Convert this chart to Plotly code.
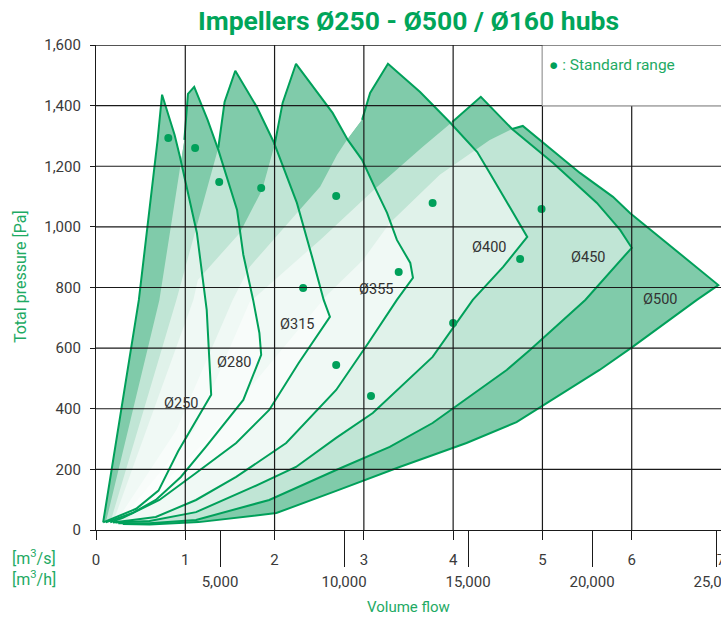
import plotly.graph_objects as go

# ---------------- data (flow in m³/s, pressure in Pa) ----------------
impellers = ["Ø250", "Ø280", "Ø315", "Ø355", "Ø400", "Ø450", "Ø500"]

# Each field: from near the origin up the left side, over the peak,
# down the right side to the nose and back along the bottom curve.
x_250 = [0.08, 0.48, 0.69, 0.74, 0.88, 0.94, 1.13, 1.24, 1.29, 1.10, 0.92, 0.70, 0.45]
y_250 = [25, 759, 1287, 1436, 1304, 1231, 980, 726, 446, 350, 260, 130, 70]

x_280 = [0.11, 0.71, 0.99, 1.03, 1.10, 1.25, 1.37, 1.58, 1.65, 1.76, 1.83, 1.85, 1.65, 1.23, 0.95, 0.67, 0.41]
y_280 = [25, 759, 1287, 1439, 1462, 1353, 1254, 1056, 908, 759, 650, 578, 429, 274, 175, 99, 56]

x_315 = [0.16, 0.90, 1.37, 1.44, 1.56, 1.80, 1.99, 2.17, 2.25, 2.42, 2.55, 2.62, 2.27, 1.94, 1.57, 1.12, 0.71, 0.30]
y_315 = [25, 759, 1261, 1412, 1515, 1396, 1280, 1139, 1079, 901, 759, 703, 551, 396, 287, 188, 99, 40]

x_355 = [0.19, 1.09, 1.14, 1.61, 1.86, 2.00, 2.09, 2.24, 2.65, 2.82, 2.98, 3.12, 3.26, 3.37, 3.52, 3.55,
         3.37, 3.05, 2.69, 2.13, 1.57, 1.12, 0.67]
y_355 = [25, 759, 825, 980, 1122, 1270, 1409, 1538, 1376, 1287, 1221, 1132, 1046, 957, 881, 832,
         759, 617, 462, 287, 175, 99, 43]

x_400 = [0.22, 0.90, 1.53, 1.72, 2.28, 2.51, 2.70, 2.81, 2.98, 3.07, 3.27, 3.63, 3.96, 4.27, 4.41, 4.67, 4.83,
         4.56, 4.22, 3.77, 3.10, 2.69, 2.24, 1.76, 1.12, 0.60]
y_400 = [25, 330, 759, 868, 1056, 1132, 1238, 1287, 1353, 1442, 1538, 1445, 1346, 1247, 1178, 1046, 967,
         868, 759, 571, 386, 304, 208, 142, 59, 30]

x_450 = [0.25, 1.10, 1.72, 2.51, 3.15, 3.66, 3.99, 4.31, 4.66, 5.12, 5.61, 5.87, 6.00,
         5.61, 5.48, 4.86, 4.60, 3.77, 3.29, 2.69, 1.94, 1.12, 0.60]
y_450 = [22, 330, 752, 957, 1132, 1264, 1346, 1429, 1323, 1211, 1079, 990, 931,
         802, 759, 594, 528, 353, 274, 198, 99, 33, 22]

x_500 = [0.30, 1.25, 2.59, 2.99, 3.29, 3.85, 4.41, 4.66, 4.78, 5.42, 5.79, 5.98, 6.97,
         6.73, 6.01, 5.64, 4.71, 4.15, 3.40, 2.69, 2.02, 1.15, 0.60]
y_500 = [20, 300, 776, 891, 1013, 1172, 1287, 1323, 1333, 1178, 1099, 1046, 808,
         759, 604, 528, 356, 287, 208, 129, 56, 26, 18]

fields_x = [x_250, x_280, x_315, x_355, x_400, x_450, x_500]
fields_y = [y_250, y_280, y_315, y_355, y_400, y_450, y_500]

# index of the first left-side vertex from which the outline is drawn
outline_from = [0, 2, 2, 5, 8, 6, 7]

label_x = [0.95, 1.545, 2.25, 3.14, 4.40, 5.51, 6.32]
label_y = [416, 551, 677, 795, 931, 898, 759]

std_flow = [0.81, 1.11, 1.38, 1.85, 2.69, 3.77, 4.99, 4.75, 3.39, 2.32, 4.00, 2.69, 3.08]
std_pressure = [1293, 1260, 1148, 1128, 1102, 1079, 1059, 894, 851, 798, 683, 544, 442]

flow_s_ticks = [0, 1, 2, 3, 4, 5, 6, 7]
flow_h_ticks = [5000, 10000, 15000, 20000, 25000]
flow_h_text = ["5,000", "10,000", "15,000", "20,000", "25,000"]
pressure_ticks = [0, 200, 400, 600, 800, 1000, 1200, 1400, 1600]

X_MAX = 7.0          # m³/s at right edge
H_PER_S = 3600.0     # m³/h per m³/s

# ---------------- styling ----------------
FONT = "Roboto, sans-serif"
LINE_GREEN = "rgb(0,160,90)"
BASE_GREEN = "rgb(0,150,84)"
VEIL = "rgba(255,255,255,0.5)"
TEXT_GREEN = "rgb(30,170,100)"
TICK_GREY = "#3a3a3a"
GRID = "#1a1a1a"

fig = go.Figure()

# opaque green base of every field
for xs, ys in zip(fields_x, fields_y):
    fig.add_trace(go.Scatter(x=xs + [xs[0]], y=ys + [ys[0]], mode="lines", fill="toself",
                             fillcolor=BASE_GREEN, line=dict(width=0),
                             hoverinfo="skip", showlegend=False))
# white veil per field: more overlapping fields -> lighter
for xs, ys in zip(fields_x, fields_y):
    fig.add_trace(go.Scatter(x=xs + [xs[0]], y=ys + [ys[0]], mode="lines", fill="toself",
                             fillcolor=VEIL, line=dict(width=0),
                             hoverinfo="skip", showlegend=False))
# outlines
for name, xs, ys, k in zip(impellers, fields_x, fields_y, outline_from):
    fig.add_trace(go.Scatter(x=xs[k:] + [xs[0]], y=ys[k:] + [ys[0]], mode="lines",
                             line=dict(color=LINE_GREEN, width=2), name=name,
                             hoverinfo="skip", showlegend=False))

# standard range points
fig.add_trace(go.Scatter(x=std_flow, y=std_pressure, mode="markers",
                         marker=dict(color=LINE_GREEN, size=8),
                         name=": Standard range", showlegend=False))

# dummy for second (m³/h) axis
fig.add_trace(go.Scatter(x=[None], y=[None], xaxis="x2", showlegend=False, hoverinfo="skip"))

annotations = []
for name, lx, ly in zip(impellers, label_x, label_y):
    annotations.append(dict(x=lx, y=ly, xref="x", yref="y", text=name, showarrow=False,
                            xanchor="center", yanchor="middle",
                            font=dict(family=FONT, size=14.5, color="#333333")))

annotations += [
    dict(x=-0.1216, y=0.5216, xref="paper", yref="paper", text="Total pressure [Pa]", textangle=-90,
         xanchor="center", yanchor="middle", showarrow=False,
         font=dict(family=FONT, size=16, color=TEXT_GREEN)),
    dict(x=0.5, y=-0.1588, xref="paper", yref="paper", text="Volume flow", showarrow=False,
         xanchor="center", yanchor="middle",
         font=dict(family=FONT, size=15, color=TEXT_GREEN)),
    dict(x=-0.099, y=-0.0577, xref="paper", yref="paper", text="[m<sup>3</sup>/s]", showarrow=False,
         xanchor="center", yanchor="middle",
         font=dict(family=FONT, size=16, color=TEXT_GREEN)),
    dict(x=-0.099, y=-0.101, xref="paper", yref="paper", text="[m<sup>3</sup>/h]", showarrow=False,
         xanchor="center", yanchor="middle",
         font=dict(family=FONT, size=16, color=TEXT_GREEN)),
    dict(x=0.722, y=0.959, xref="paper", yref="paper", xanchor="left", yanchor="middle",
         text='<span style="color:rgb(0,160,90)">●</span> : Standard range', showarrow=False,
         font=dict(family=FONT, size=15.5, color=TEXT_GREEN)),
]

shapes = []
for p in pressure_ticks[1:]:
    shapes.append(dict(type="line", xref="x", yref="y", x0=0, x1=X_MAX, y0=p, y1=p,
                       line=dict(color=GRID, width=1.2), layer="above"))
for f in flow_s_ticks[1:-1]:
    shapes.append(dict(type="line", xref="x", yref="y", x0=f, x1=f, y0=0, y1=pressure_ticks[-1],
                       line=dict(color=GRID, width=1.2), layer="above"))
# legend box
shapes.append(dict(type="rect", xref="x", yref="y", x0=5, x1=X_MAX + 0.05, y0=1400, y1=1600,
                   fillcolor="white", line=dict(width=0), layer="above"))
shapes.append(dict(type="line", xref="x", yref="y", x0=5, x1=5, y0=1400, y1=1600,
                   line=dict(color="#b0b0b0", width=1.2), layer="above"))
shapes.append(dict(type="line", xref="x", yref="y", x0=5, x1=X_MAX, y0=1400, y1=1400,
                   line=dict(color="#b0b0b0", width=1.2), layer="above"))
shapes.append(dict(type="line", xref="x", yref="y", x0=0, x1=X_MAX, y0=1600, y1=1600,
                   line=dict(color=GRID, width=1.2), layer="above"))

fig.update_layout(
    width=721, height=617,
    margin=dict(l=96, r=0, t=45, b=87),
    paper_bgcolor="white", plot_bgcolor="white",
    title=dict(text="<b>Impellers Ø250 - Ø500 / Ø160 hubs</b>", x=0.5, xref="paper",
               xanchor="center", y=0.967, yref="container", yanchor="middle",
               font=dict(family=FONT, size=26.5, color="rgb(0,165,90)")),
    xaxis=dict(range=[0, X_MAX], tickvals=flow_s_ticks, ticks="outside", ticklen=9,
               tickcolor=GRID, showline=True, linecolor=GRID, linewidth=1.2,
               showgrid=False, zeroline=False, ticklabelstandoff=7, ticklabeloverflow="allow",
               tickfont=dict(family=FONT, size=15, color=TICK_GREY), automargin=False),
    xaxis2=dict(range=[0, X_MAX * H_PER_S], overlaying="x", anchor="y", side="bottom",
                tickvals=flow_h_ticks, ticktext=flow_h_text, ticks="outside", ticklen=36,
                tickcolor=GRID, showline=False, showgrid=False, zeroline=False,
                ticklabelstandoff=2, ticklabeloverflow="allow",
                tickfont=dict(family=FONT, size=15, color=TICK_GREY), automargin=False),
    yaxis=dict(range=[0, 1600], tickvals=pressure_ticks, tickformat=",d", ticks="outside", ticklen=5,
               tickcolor=GRID, showline=True, linecolor=GRID, linewidth=1.2,
               showgrid=False, zeroline=False, ticklabelstandoff=6,
               tickfont=dict(family=FONT, size=15, color=TICK_GREY), automargin=False),
    annotations=annotations,
    shapes=shapes,
    showlegend=False,
)

fig.write_html("out.html", config={"displayModeBar": False},
               post_script="document.body.style.margin='0px';")
